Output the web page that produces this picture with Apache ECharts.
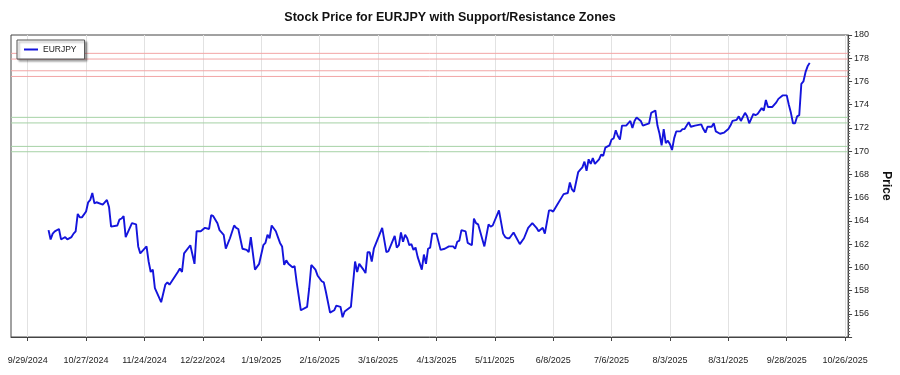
<!DOCTYPE html>
<html><head><meta charset="utf-8">
<script src="https://cdn.jsdelivr.net/npm/echarts@6/dist/echarts.min.js"></script>
<style>html,body{margin:0;padding:0;background:#fff}#c{width:900px;height:375px}</style>
</head><body><div id="c"></div>
<script>
const chartTitle = 'Stock Price for EURJPY with Support/Resistance Zones';
const seriesName = 'EURJPY';
const yAxisName = 'Price';

const dates = [
 '2024-10-09','2024-10-10','2024-10-11','2024-10-12','2024-10-14','2024-10-15','2024-10-16','2024-10-17','2024-10-18','2024-10-20','2024-10-21','2024-10-22','2024-10-23','2024-10-24','2024-10-25','2024-10-27','2024-10-28','2024-10-29','2024-10-30','2024-10-31',
 '2024-11-01','2024-11-04','2024-11-06','2024-11-07','2024-11-08','2024-11-11','2024-11-12','2024-11-13','2024-11-14','2024-11-15','2024-11-18','2024-11-20','2024-11-21','2024-11-22','2024-11-25','2024-11-26','2024-11-27','2024-11-28','2024-11-29',
 '2024-12-02','2024-12-04','2024-12-05','2024-12-06','2024-12-10','2024-12-11','2024-12-12','2024-12-13','2024-12-16','2024-12-18','2024-12-19','2024-12-21','2024-12-23','2024-12-25','2024-12-26','2024-12-27','2024-12-29','2024-12-30',
 '2025-01-01','2025-01-02','2025-01-04','2025-01-06','2025-01-07','2025-01-08','2025-01-10','2025-01-12','2025-01-13','2025-01-14','2025-01-16','2025-01-18','2025-01-20','2025-01-21','2025-01-22','2025-01-23','2025-01-24','2025-01-26','2025-01-27','2025-01-28','2025-01-29','2025-01-30','2025-01-31',
 '2025-02-01','2025-02-03','2025-02-04','2025-02-05','2025-02-07','2025-02-10','2025-02-11','2025-02-12','2025-02-14','2025-02-15','2025-02-17','2025-02-18','2025-02-19','2025-02-21','2025-02-23','2025-02-24','2025-02-26','2025-02-27','2025-02-28',
 '2025-03-03','2025-03-05','2025-03-06','2025-03-07','2025-03-09','2025-03-10','2025-03-11','2025-03-12','2025-03-13','2025-03-14','2025-03-18','2025-03-20','2025-03-21','2025-03-24','2025-03-25','2025-03-26','2025-03-27','2025-03-28','2025-03-29','2025-03-30','2025-03-31',
 '2025-04-01','2025-04-02','2025-04-03','2025-04-04','2025-04-06','2025-04-07','2025-04-08','2025-04-09','2025-04-10','2025-04-11','2025-04-13','2025-04-15','2025-04-17','2025-04-19','2025-04-21','2025-04-22','2025-04-23','2025-04-24','2025-04-25','2025-04-27','2025-04-28','2025-04-30',
 '2025-05-01','2025-05-02','2025-05-03','2025-05-06','2025-05-08','2025-05-09','2025-05-10','2025-05-13','2025-05-15','2025-05-16','2025-05-17','2025-05-18','2025-05-20','2025-05-23','2025-05-25','2025-05-27','2025-05-29','2025-05-31',
 '2025-06-01','2025-06-03','2025-06-04','2025-06-06','2025-06-07','2025-06-08','2025-06-10','2025-06-12','2025-06-13','2025-06-15','2025-06-16','2025-06-17','2025-06-18','2025-06-20','2025-06-21','2025-06-22','2025-06-23','2025-06-24','2025-06-25','2025-06-26','2025-06-27','2025-06-28','2025-06-30',
 '2025-07-01','2025-07-02','2025-07-03','2025-07-05','2025-07-06','2025-07-07','2025-07-08','2025-07-09','2025-07-10','2025-07-11','2025-07-13','2025-07-15','2025-07-16','2025-07-17','2025-07-18','2025-07-20','2025-07-21','2025-07-24','2025-07-25','2025-07-27','2025-07-28','2025-07-29','2025-07-30','2025-07-31',
 '2025-08-01','2025-08-02','2025-08-03','2025-08-04','2025-08-05','2025-08-06','2025-08-08','2025-08-09','2025-08-10','2025-08-12','2025-08-13','2025-08-15','2025-08-18','2025-08-19','2025-08-20','2025-08-21','2025-08-23','2025-08-24','2025-08-25','2025-08-27','2025-08-29','2025-08-31',
 '2025-09-01','2025-09-02','2025-09-04','2025-09-05','2025-09-06','2025-09-08','2025-09-09','2025-09-10','2025-09-12','2025-09-13','2025-09-14','2025-09-16','2025-09-17','2025-09-18','2025-09-19','2025-09-21','2025-09-23','2025-09-24','2025-09-26','2025-09-28','2025-09-29','2025-09-30',
 '2025-10-01','2025-10-02','2025-10-03','2025-10-04','2025-10-05','2025-10-06','2025-10-07','2025-10-08','2025-10-09'
];

const prices = [
 163.2,162.4,162.9,163.1,163.3,162.4,162.5,162.6,162.4,162.6,162.9,163.1,164.6,164.3,164.3,164.8,165.6,165.8,166.4,165.5,
 165.6,165.4,165.8,165.2,163.5,163.6,164.1,164.2,164.4,162.6,163.8,163.7,161.8,161.2,161.8,160.5,159.6,159.8,158.2,
 157.0,158.5,158.7,158.5,159.6,159.9,159.6,161.2,161.9,160.3,163.1,163.1,163.4,163.3,164.5,164.4,163.8,163.2,
 162.8,161.6,162.5,163.6,163.4,163.3,161.6,161.5,161.3,162.6,159.8,160.3,161.9,162.1,162.8,162.5,163.6,163.1,162.6,162.1,161.8,160.2,160.6,
 160.3,160.0,160.1,158.7,156.3,156.6,158.2,160.2,159.8,159.3,158.8,158.7,157.9,156.1,156.3,156.7,156.6,155.7,156.2,
 156.6,160.5,159.6,160.3,159.8,159.5,161.3,161.3,160.5,161.6,163.4,161.3,161.4,162.7,161.7,161.9,163.0,162.2,162.8,162.5,161.9,
 162.0,161.5,161.7,160.9,159.8,161.1,160.3,161.6,161.7,162.9,162.9,161.5,161.6,161.8,161.8,161.6,162.2,162.3,163.2,163.1,162.1,161.9,
 164.2,163.8,163.7,161.8,163.7,163.5,163.6,164.9,162.9,162.6,162.5,162.5,163.0,162.0,162.5,163.4,163.8,163.4,
 163.1,163.4,162.9,164.9,164.9,164.8,165.4,166.0,166.3,166.4,167.3,166.7,166.5,168.2,168.4,168.6,169.1,168.3,169.3,168.9,169.4,168.9,169.3,
 169.7,169.6,170.3,170.5,171.0,171.1,171.8,171.3,171.0,172.2,172.2,172.6,172.0,172.6,172.9,172.6,172.2,172.4,173.3,173.5,172.2,171.5,170.5,171.9,
 170.7,170.9,170.6,170.1,171.1,171.7,171.7,171.9,171.9,172.5,172.1,172.2,172.3,171.9,171.6,172.1,172.1,172.4,171.7,171.5,171.6,171.9,
 172.2,172.6,172.7,173.0,172.6,173.3,173.0,172.4,173.2,173.1,173.2,173.7,173.5,174.4,173.8,173.8,174.2,174.5,174.8,174.8,174.0,173.3,
 172.4,172.4,173.0,173.1,175.8,176.0,176.8,177.3,177.6
];

const resistanceLevels = [176.43, 176.92, 177.93, 178.42];
const supportLevels = [169.95, 170.41, 172.43, 172.91];

const xTickLabels = ['9/29/2024','10/27/2024','11/24/2024','12/22/2024','1/19/2025','2/16/2025','3/16/2025','4/13/2025','5/11/2025','6/8/2025','7/6/2025','8/3/2025','8/31/2025','9/28/2025','10/26/2025'];
const xRange = ['2024-09-21T00:00:00Z', '2025-10-27T10:00:00Z'];
const yRange = [154, 180];
const yStep = 2;

function parseMDY(s) { const p = s.split('/').map(Number); return Date.UTC(p[2], p[0] - 1, p[1]); }
function fmtMDY(t) { const d = new Date(t); return (d.getUTCMonth() + 1) + '/' + d.getUTCDate() + '/' + d.getUTCFullYear(); }
const tickValues = xTickLabels.map(parseMDY);
const xMin = Date.parse(xRange[0]), xMax = Date.parse(xRange[1]);

function levelSeries(levels, color) {
  return levels.map(v => ({
    type: 'line', silent: true, showSymbol: false, symbol: 'none', z: 1,
    data: [[xMin, v], [xMax, v]],
    lineStyle: { color: color, width: 1 }, itemStyle: { color: color },
    tooltip: { show: false }
  }));
}

const font = 'Liberation Sans, Arial, sans-serif';
const chart = echarts.init(document.getElementById('c'), null, { renderer: 'canvas' });
chart.setOption({
  animation: false,
  backgroundColor: '#fff',
  title: { text: chartTitle, left: 'center', top: 6,
    textStyle: { fontFamily: font, fontSize: 12.5, fontWeight: 'bold', color: '#111' } },
  legend: { data: [seriesName], left: 17, top: 40, orient: 'horizontal',
    padding: [5, 8, 5, 7], itemWidth: 14, itemHeight: 2, itemGap: 5, icon: 'rect',
    backgroundColor: '#fff', borderColor: '#555', borderWidth: 1,
    shadowColor: 'rgba(0,0,0,0.35)', shadowBlur: 2, shadowOffsetX: 2, shadowOffsetY: 2,
    textStyle: { fontFamily: font, fontSize: 8.5, color: '#222' } },
  grid: { left: 11, right: 41, top: 35, bottom: 38, show: true, borderColor: '#444', borderWidth: 1, containLabel: false },
  xAxis: {
    type: 'value', min: xMin, max: xMax,
    axisLine: { show: true, lineStyle: { color: '#444' } },
    axisTick: { show: true, customValues: tickValues, length: 4, lineStyle: { color: '#444' } },
    axisLabel: { customValues: tickValues, formatter: v => fmtMDY(v), margin: 19, fontFamily: font, fontSize: 9, color: '#222', hideOverlap: false },
    splitLine: { show: true, lineStyle: { color: '#e2e2e2', width: 1 } },
    minorTick: { show: false }
  },
  yAxis: {
    type: 'value', position: 'right', min: yRange[0], max: yRange[1], interval: yStep,
    name: yAxisName, nameLocation: 'middle', nameGap: 29, nameRotate: -90,
    nameTextStyle: { fontFamily: font, fontSize: 12, fontWeight: 'bold', color: '#111' },
    axisLine: { show: true, lineStyle: { color: '#444' } },
    axisTick: { show: true, length: 4, lineStyle: { color: '#444' } },
    minorTick: { show: true, splitNumber: 8, length: 2, lineStyle: { color: '#666' } },
    axisLabel: { showMinLabel: false, margin: 6, fontFamily: font, fontSize: 9, color: '#222' },
    splitLine: { show: false }
  },
  series: levelSeries(resistanceLevels, '#f2a6a6')
    .concat(levelSeries(supportLevels, '#a6d2a6'))
    .concat([{
      name: seriesName, type: 'line', showSymbol: false, symbol: 'none',
      data: dates.map((d, i) => [Date.parse(d), prices[i]]),
      lineStyle: { color: '#1414dc', width: 1.9 }, itemStyle: { color: '#1414dc' },
      z: 3
    }])
});
</script>
</body></html>
